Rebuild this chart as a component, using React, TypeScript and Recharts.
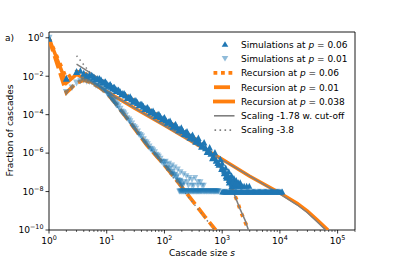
import { ComposedChart, Line, Scatter, XAxis, YAxis, ReferenceArea } from "recharts";

// values as [cascade size s, log10(fraction)]
const simHighBand: [number, number][] = [
  [1, -0.02], [2, -2.1], [3, -1.75], [4, -1.84], [5, -1.94], [6, -2.04], [7, -2.12], [8, -2.2], [9, -2.3],
  [10, -2.38], [11, -2.45], [12, -2.52], [13, -2.59], [14, -2.65], [15, -2.7], [17, -2.8], [19, -2.9],
  [21, -2.98], [24, -3.09], [27, -3.18], [30, -3.27], [34, -3.37], [38, -3.46], [43, -3.56], [48, -3.65],
  [54, -3.74], [60, -3.83], [67, -3.92], [75, -4.0], [85, -4.1], [95, -4.2], [105, -4.28], [118, -4.37],
  [132, -4.47], [148, -4.56], [165, -4.65], [185, -4.74], [207, -4.83], [232, -4.93], [260, -5.03],
  [290, -5.12], [325, -5.23], [365, -5.34], [410, -5.46], [460, -5.58], [515, -5.72], [575, -5.86],
  [640, -6.01], [710, -6.18], [790, -6.37], [880, -6.58], [980, -6.8], [1090, -7.02], [1200, -7.25],
  [1330, -7.5], [1470, -7.7],
];
const simHighNoise: [number, number][] = [
  [3.5, -1.7], [4.5, -1.95], [5.5, -1.93], [6.5, -2.13], [7.5, -2.1], [8.5, -2.3], [9.5, -2.28],
  [10.5, -2.48], [11.5, -2.42], [12.5, -2.62], [13.5, -2.56], [14.5, -2.76], [16, -2.7], [18, -2.93],
  [20, -2.88], [22.5, -3.12], [25.5, -3.06], [28.5, -3.31], [32, -3.25], [36, -3.5], [40.5, -3.44],
  [45.5, -3.69], [51, -3.62], [57, -3.87], [63.5, -3.8], [71, -4.05], [80, -3.97], [90, -4.23],
  [100, -4.13], [111, -4.41], [125, -4.31], [140, -4.61], [156, -4.49], [175, -4.8], [196, -4.67],
  [220, -4.99], [246, -4.86], [275, -5.19], [307, -5.04], [345, -5.4], [387, -5.2], [435, -5.65],
  [487, -5.44], [545, -5.93], [607, -5.7], [675, -6.26], [750, -5.95], [835, -6.5], [930, -6.3],
];
const simHighTail: [number, number][] = [
  [1000, -6.5], [1000, -6.7], [1150, -6.75], [1150, -7.0], [1150, -7.2], [1300, -6.95], [1300, -7.2],
  [1300, -7.4], [1450, -7.15], [1450, -7.4], [1450, -7.6], [1600, -7.3], [1600, -7.52], [1600, -7.7],
  [1750, -7.4], [1750, -7.7], [1900, -7.52], [1900, -7.7], [2050, -7.52], [2050, -7.7], [2200, -7.7],
  [2400, -7.7], [2650, -7.7], [2950, -7.7], [1070, -6.9], [1230, -7.1], [1380, -7.3], [1530, -7.45],
  [1680, -7.6], [1830, -7.6],
];
const simHighFloor: number[] = [
  1000, 1050, 1100, 1150, 1200, 1260, 1330, 1400, 1470, 1540, 1620, 1700, 1780, 1870, 1960, 2060, 2160,
  2270, 2380, 2500, 2620, 2750, 2880, 3020, 3170, 3330, 3490, 3660, 3840, 4030, 4230, 4440, 4650, 4880,
  5120, 5370, 5630, 5910, 6200, 6510, 6820, 7150, 7500, 7870, 8250, 8650, 9080, 9530, 10000, 10500, 11000,
];
const simLowBand: [number, number][] = [
  [1, -0.03], [2, -2.85], [3, -2.35], [4, -2.2], [5, -2.28], [6, -2.38], [7, -2.5], [8, -2.6], [9, -2.72],
  [10, -2.85], [11, -3.0], [12, -3.15], [13, -3.27], [14, -3.39], [15, -3.5], [17, -3.72], [19, -3.9],
  [21, -4.07], [24, -4.28], [27, -4.48], [30, -4.68], [34, -4.9], [38, -5.08], [43, -5.3], [48, -5.48],
  [54, -5.68], [60, -5.82], [67, -5.98], [75, -6.15], [84, -6.32], [94, -6.5], [105, -6.65], [117, -6.82],
  [130, -6.98], [145, -7.15], [160, -7.3], [178, -7.48], [198, -7.65],
];
const simLowNoise: [number, number][] = [
  [2.5, -2.6], [3.5, -2.25], [4.5, -2.27], [5.5, -2.3], [6.5, -2.48], [7.5, -2.52], [8.5, -2.7],
  [9.5, -2.76], [10.5, -2.95], [11.5, -3.05], [12.5, -3.24], [13.5, -3.3], [14.5, -3.48], [16, -3.58],
  [18, -3.85], [20, -3.95], [22.5, -4.2], [25.5, -4.35], [28.5, -4.6], [32, -4.75], [36, -5.02],
  [40.5, -5.15], [45.5, -5.42], [51, -5.55], [57, -5.78], [63.5, -5.88], [71, -6.1], [79, -6.2],
  [89, -6.45], [99, -6.5], [111, -6.78], [123, -6.85], [137, -7.1], [152, -7.15], [169, -7.42],
  [188, -7.45], [208, -7.7],
];
const simLowSpread: [number, number][] = [
  [105, -6.45], [120, -6.55], [135, -6.65], [150, -6.75], [170, -6.85], [190, -7.0], [215, -7.1],
  [240, -7.2], [270, -7.3], [300, -7.4], [340, -7.3], [380, -7.52], [420, -7.52], [140, -7.0],
  [165, -7.2], [190, -7.52], [220, -7.52], [260, -7.7], [320, -7.7], [480, -7.7], [200, -7.7],
  [250, -7.52], [300, -7.7], [380, -7.7], [450, -7.7],
];
const simLowFloor: number[] = [
  180, 185, 190, 195, 200, 205, 210, 215, 220, 226, 232, 238, 245, 251, 257, 264, 270, 278, 285, 292, 300,
  308, 315, 322, 330, 338, 347, 356, 365, 373, 382, 391, 400, 410, 420, 430, 440, 452, 465, 477, 490,
  502, 515, 528, 540, 555, 570, 585, 600, 615, 630, 645, 660, 678, 695, 712, 730, 748, 765, 782, 800,
  820, 840, 860, 880,
];
const recHigh: [number, number][] = [
  [1, -0.02], [2, -2.1], [3, -1.75], [4, -1.85], [5, -1.95], [7, -2.13], [10, -2.38], [20, -2.94],
  [50, -3.68], [100, -4.24], [200, -4.8], [300, -5.13], [400, -5.42], [500, -5.68], [630, -5.98],
  [800, -6.38], [1000, -6.83], [1200, -7.28], [1400, -7.68], [1600, -8.08], [1800, -8.45], [2100, -9.05],
  [2500, -9.6], [2900, -10],
];
const recLow: [number, number][] = [
  [1, -0.05], [2, -2.85], [3, -2.35], [4, -2.2], [5, -2.3], [7, -2.52], [10, -2.85], [12, -3.15],
  [15, -3.5], [20, -4.0], [30, -4.7], [50, -5.6], [70, -6.1], [95, -6.55], [130, -7.05], [170, -7.5],
  [230, -8.0], [350, -8.7], [500, -9.3], [770, -10],
];
const recMid: [number, number][] = [
  [1, -0.03], [2, -2.35], [3, -1.9], [4, -2.1], [5, -2.25], [7, -2.5], [10, -2.8], [30, -3.65],
  [100, -4.55], [300, -5.4], [1000, -6.32], [3000, -7.2], [10000, -8.07], [20000, -8.62], [30000, -9.02],
  [45000, -9.5], [68000, -10],
];
const scaleHigh: [number, number][] = [
  [3, -1.37], [14, -2.65], [30, -3.24], [100, -4.2], [300, -5.1], [600, -5.88], [1000, -6.8],
  [1500, -7.88], [2000, -8.85], [2500, -9.5], [2850, -10],
];
const scaleMid: [number, number][] = [
  [4, -1.95], [10, -2.8], [100, -4.57], [1000, -6.35], [10000, -8.12], [20000, -8.7], [30000, -9.1],
  [45000, -9.6], [62000, -10],
];
const scaleSteep: [number, number][] = [[3, -0.93], [740, -10]];

const xMajor = [1, 10, 100, 1000, 10000, 100000];
const xMinor = [2, 3, 4, 5, 6, 7, 8, 9, 20, 30, 40, 50, 60, 70, 80, 90, 200, 300, 400, 500, 600, 700, 800, 900,
  2000, 3000, 4000, 5000, 6000, 7000, 8000, 9000, 20000, 30000, 40000, 50000, 60000, 70000, 80000, 90000, 200000];
const yMajor = [1e-10, 1e-8, 1e-6, 1e-4, 1e-2, 1];

const legendLabels = [
  ["Simulations at ", "0.06"],
  ["Simulations at ", "0.01"],
  ["Recursion at ", "0.06"],
  ["Recursion at ", "0.01"],
  ["Recursion at ", "0.038"],
];

const toRows = (pts: [number, number][]) => pts.map(([s, e]) => ({ s, f: Math.pow(10, e) }));
const floorRows = (ss: number[]) => ss.map((s) => ({ s, f: 1e-8 }));

const BLUE = "#1f77b4";
const ORANGE = "#ff7f0e";
const GRAY = "#7f7f7f";
const FONT = "DejaVu Sans";

const sup = (e: number) => String(e).replace("-", "\u2212");

const tri = (up: boolean, opacity: number, size: number) => (p: any) => {
  const { cx, cy } = p;
  if (cx == null || cy == null) return <g />;
  const h = size / 2;
  const d = up
    ? `M${cx},${cy - h}L${cx + h},${cy + h}L${cx - h},${cy + h}Z`
    : `M${cx},${cy + h}L${cx + h},${cy - h}L${cx - h},${cy - h}Z`;
  return <path d={d} fill={BLUE} fillOpacity={opacity} />;
};

const XTick = (props: any) => {
  const { x, y, payload } = props;
  const v = payload.value;
  const major = xMajor.includes(v);
  return (
    <g>
      <line x1={x} x2={x} y1={y} y2={y + (major ? 3.5 : 2)} stroke="#000" strokeWidth={major ? 0.8 : 0.6} />
      {major && (
        <text x={x} y={y + 13.5} textAnchor="middle" fontSize={9.1} fontFamily={FONT} fill="#000">
          <tspan>10</tspan>
          <tspan dy={-4} fontSize={6.4}>{sup(Math.round(Math.log10(v)))}</tspan>
        </text>
      )}
    </g>
  );
};

const YTick = (props: any) => {
  const { x, y, payload } = props;
  return (
    <g>
      <line x1={x - 3.5} x2={x} y1={y} y2={y} stroke="#000" strokeWidth={0.8} />
      <text x={x - 5.5} y={y + 3.3} textAnchor="end" fontSize={9.1} fontFamily={FONT} fill="#000">
        <tspan>10</tspan>
        <tspan dy={-4} fontSize={6.4}>{sup(Math.round(Math.log10(payload.value)))}</tspan>
      </text>
    </g>
  );
};

export default function App() {
  const rowY = [44.3, 58.6, 72.9, 87.2, 101.5, 115.8, 130.1];
  return (
    <div style={{ position: "relative", width: 395, height: 263, background: "#fff" }}>
      <style>{`body{margin:0}`}</style>
      <ComposedChart width={395} height={263} margin={{ top: 32, right: 40, bottom: 0, left: 0 }}>
        <XAxis dataKey="s" type="number" scale="log" domain={[1, 200000]} allowDataOverflow
          ticks={[...xMajor, ...xMinor]} interval={0} tick={<XTick />} tickLine={false} tickSize={0}
          tickMargin={0} axisLine={false} height={33} />
        <YAxis type="number" scale="log" domain={[1e-10, 2]} allowDataOverflow ticks={yMajor} interval={0}
          tick={<YTick />} tickLine={false} tickSize={0} tickMargin={0} axisLine={false} width={49} />
        <Scatter data={toRows(simHighBand)} dataKey="f" shape={tri(true, 1, 7)} isAnimationActive={false} />
        <Scatter data={toRows(simHighNoise)} dataKey="f" shape={tri(true, 1, 6.5)} isAnimationActive={false} />
        <Scatter data={toRows(simHighTail)} dataKey="f" shape={tri(true, 1, 6)} isAnimationActive={false} />
        <Scatter data={floorRows(simHighFloor)} dataKey="f" shape={tri(true, 1, 6)} isAnimationActive={false} />
        <Scatter data={toRows(simLowBand)} dataKey="f" shape={tri(false, 0.45, 7)} isAnimationActive={false} />
        <Scatter data={toRows(simLowNoise)} dataKey="f" shape={tri(false, 0.45, 6.5)} isAnimationActive={false} />
        <Scatter data={toRows(simLowSpread)} dataKey="f" shape={tri(false, 0.45, 6)} isAnimationActive={false} />
        <Scatter data={floorRows(simLowFloor)} dataKey="f" shape={tri(false, 0.45, 6)} isAnimationActive={false} />
        <Line data={toRows(recMid)} dataKey="f" type="linear" stroke={ORANGE} strokeWidth={3.5} dot={false}
          isAnimationActive={false} />
        <Line data={toRows(recLow)} dataKey="f" type="linear" stroke={ORANGE} strokeWidth={3.8}
          strokeDasharray="13 5" dot={false} isAnimationActive={false} />
        <Line data={toRows(recHigh)} dataKey="f" type="linear" stroke={ORANGE} strokeWidth={3.6}
          strokeDasharray="3.6 5.5" dot={false} isAnimationActive={false} />
        <Line data={toRows(scaleHigh)} dataKey="f" type="linear" stroke={GRAY} strokeWidth={1.5} dot={false}
          isAnimationActive={false} />
        <Line data={toRows(scaleMid)} dataKey="f" type="linear" stroke={GRAY} strokeWidth={1.5} dot={false}
          isAnimationActive={false} />
        <Line data={toRows(scaleSteep)} dataKey="f" type="linear" stroke={GRAY} strokeWidth={1.5}
          strokeDasharray="1.5 3.5" dot={false} isAnimationActive={false} />
        <ReferenceArea x1={1} x2={200000} y1={1e-10} y2={2} fill="none" stroke="#000" strokeWidth={0.9} />
      </ComposedChart>
      <svg width={395} height={263} style={{ position: "absolute", left: 0, top: 0, pointerEvents: "none" }}
        fontFamily={FONT} fontSize={9}>
        <text x={5} y={40.5}>a)</text>
        <text transform="rotate(-90)" x={-130.5} y={12.7} textAnchor="middle">Fraction of cascades</text>
        <text x={202} y={256} textAnchor="middle">
          Cascade size <tspan fontStyle="italic">s</tspan>
        </text>
        {/* legend handles */}
        <path d={`M225,${rowY[0] - 3}L228.3,${rowY[0] + 2.5}L221.7,${rowY[0] + 2.5}Z`} fill={BLUE} />
        <path d={`M225,${rowY[1] + 3}L228.3,${rowY[1] - 2.5}L221.7,${rowY[1] - 2.5}Z`} fill={BLUE}
          fillOpacity={0.5} />
        <line x1={213.5} x2={234} y1={rowY[2]} y2={rowY[2]} stroke={ORANGE} strokeWidth={3.8}
          strokeDasharray="3.8 3.7" />
        <line x1={214} x2={230} y1={rowY[3]} y2={rowY[3]} stroke={ORANGE} strokeWidth={3.8} />
        <line x1={213} x2={235} y1={rowY[4]} y2={rowY[4]} stroke={ORANGE} strokeWidth={3.8} />
        <line x1={214} x2={234.5} y1={rowY[5]} y2={rowY[5]} stroke={GRAY} strokeWidth={1.6} />
        <line x1={214.5} x2={234} y1={rowY[6]} y2={rowY[6]} stroke={GRAY} strokeWidth={1.6}
          strokeDasharray="1.6 3.4" />
        {legendLabels.map(([a, b], i) => (
          <text key={i} x={241} y={rowY[i] + 3.3}>
            {a}
            <tspan fontStyle="italic">p</tspan> = {b}
          </text>
        ))}
        <text x={241} y={rowY[5] + 3.3}>Scaling -1.78 w. cut-off</text>
        <text x={241} y={rowY[6] + 3.3}>Scaling -3.8</text>
      </svg>
    </div>
  );
}
